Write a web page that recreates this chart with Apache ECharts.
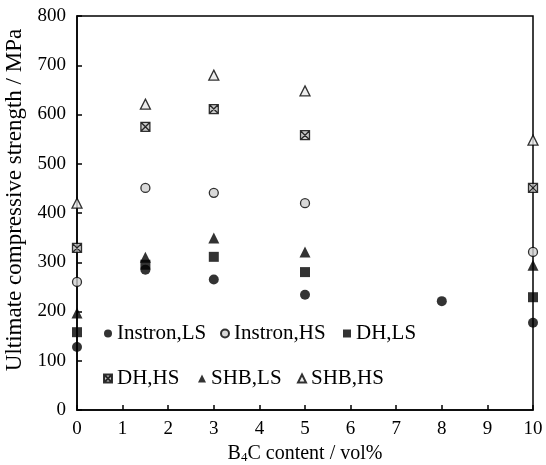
<!DOCTYPE html>
<html>
<head>
<meta charset="utf-8">
<script src="https://cdn.jsdelivr.net/npm/echarts@6/dist/echarts.min.js"></script>
<style>html,body{margin:0;padding:0;background:#fff}#c{width:546px;height:465px}</style>
</head>
<body>
<div id="c"></div>
<script>
// B4C content (vol%)
var xInstronLS = [0, 1.5, 3, 5, 8, 10];
var xOthers = [0, 1.5, 3, 5, 10];
// Ultimate compressive strength (MPa)
var instronLS = [128, 285, 265, 234, 221, 177];
var instronHS = [260, 451, 441, 420, 321];
var dhLS = [158, 295, 311, 280, 229];
var dhHS = [329, 575, 611, 558, 451];
var shbLS = [197, 310, 349, 321, 294];
var shbHS = [420, 621, 680, 648, 548];
var seriesNames = ['Instron,LS', 'Instron,HS', 'DH,LS', 'DH,HS', 'SHB,LS', 'SHB,HS'];
var xTicks = [0, 1, 2, 3, 4, 5, 6, 7, 8, 9, 10];
var yTicks = [0, 100, 200, 300, 400, 500, 600, 700, 800];

function pairs(xs, ys) { return xs.map(function (x, i) { return [x, ys[i]]; }); }

var FONT = 'Liberation Serif';
var boxX = 'path://M0,0L10,0L10,10L0,10Z M0,0L10,10 M10,0L0,10';

var chart = echarts.init(document.getElementById('c'), null, {renderer: 'canvas'});
var axisCommon = {
  axisLine: {show: true, onZero: false, lineStyle: {color: '#000', width: 1.5}},
  axisTick: {show: true, inside: true, length: 5, lineStyle: {color: '#000', width: 1.5}},
  splitLine: {show: false},
  axisLabel: {fontFamily: FONT, fontSize: 19, color: '#000'}
};
var legendPos = [[104, 323], [220, 323], [343, 323], [103, 368], [198, 368], [297, 368]];
var legends = seriesNames.map(function (n, i) {
  return {data: [n], left: legendPos[i][0], top: legendPos[i][1], itemWidth: 8, itemHeight: 8,
    padding: 0, textStyle: {fontFamily: FONT, fontSize: 21, color: '#000'}};
});
var option = {
  animation: false,
  backgroundColor: '#fff',
  grid: {left: 77, right: 13, top: 16, bottom: 55, show: true, borderColor: '#000', borderWidth: 1.5,
    containLabel: false, outerBoundsMode: 'none'},
  xAxis: Object.assign({}, axisCommon, {
    type: 'value', min: xTicks[0], max: xTicks[xTicks.length - 1], interval: 1,
    axisLabel: Object.assign({}, axisCommon.axisLabel, {margin: 10}),
    name: '{a|B}{s|4}{a|C content / vol%}',
    nameLocation: 'middle', nameGap: 29,
    nameTextStyle: {rich: {
      a: {fontFamily: FONT, fontSize: 20, color: '#000'},
      s: {fontFamily: FONT, fontSize: 13, color: '#000', verticalAlign: 'bottom', padding: [8, 0, 0, 0]}
    }}
  }),
  yAxis: Object.assign({}, axisCommon, {
    type: 'value', min: yTicks[0], max: yTicks[yTicks.length - 1], interval: 100,
    axisLabel: Object.assign({}, axisCommon.axisLabel, {margin: 11}),
    name: 'Ultimate compressive strength / MPa',
    nameLocation: 'middle', nameGap: 46,
    nameTextStyle: {fontFamily: FONT, fontSize: 23, color: '#000', padding: [0, 0, 0, 26]}
  }),
  legend: legends,
  series: [
    {name: seriesNames[0], type: 'scatter', data: pairs(xInstronLS, instronLS), symbol: 'circle', symbolSize: 10,
     itemStyle: {color: '#000'}},
    {name: seriesNames[1], type: 'scatter', data: pairs(xOthers, instronHS), symbol: 'circle', symbolSize: 9,
     itemStyle: {color: '#d0d0d0', borderColor: '#000', borderWidth: 1.3}},
    {name: seriesNames[2], type: 'scatter', data: pairs(xOthers, dhLS), symbol: 'rect', symbolSize: 10,
     itemStyle: {color: '#000'}},
    {name: seriesNames[3], type: 'scatter', data: pairs(xOthers, dhHS), symbol: boxX, symbolSize: 9,
     itemStyle: {color: '#bbb', borderColor: '#000', borderWidth: 1.3}},
    {name: seriesNames[4], type: 'scatter', data: pairs(xOthers, shbLS), symbol: 'triangle', symbolSize: 11,
     itemStyle: {color: '#000'}},
    {name: seriesNames[5], type: 'scatter', data: pairs(xOthers, shbHS), symbol: 'triangle', symbolSize: 10,
     itemStyle: {color: '#e8e8e8', borderColor: '#000', borderWidth: 1.3}}
  ]
};
chart.setOption(option);
</script>
</body>
</html>
